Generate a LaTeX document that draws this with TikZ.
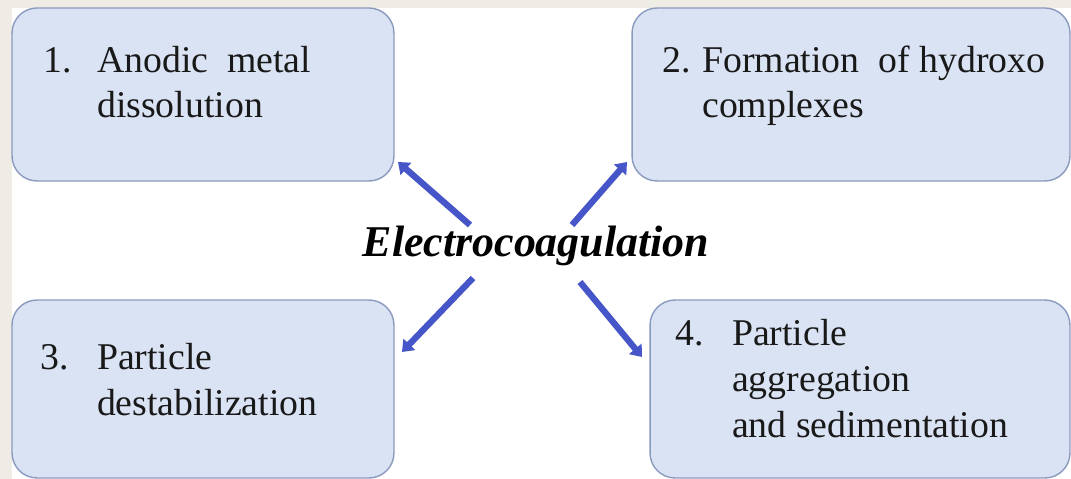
\documentclass[tikz,border=0pt]{standalone}
\usepackage{fontspec}
\setmainfont{Liberation Serif}
\usetikzlibrary{arrows.meta,positioning,calc}

\definecolor{pagebeige}{RGB}{239,236,229}
\definecolor{boxfill}{RGB}{218,227,243}
\definecolor{boxline}{RGB}{138,153,190}
\definecolor{arrowblue}{RGB}{70,86,200}

\begin{document}
\begin{tikzpicture}[
        x=0.02cm, y=-0.02cm,
        stage/.style={rectangle, rounded corners=0.5cm, draw=boxline, fill=boxfill, line width=0.8pt, inner sep=0pt},
        stagetext/.style={anchor=base west, inner sep=0pt, align=left, text=black!90, font=\fontsize{21.5}{26}\selectfont},
        link/.style={-{Triangle[length=6pt,width=9pt]}, line width=3.6pt, draw=arrowblue},
        >=latex
    ]
        % page
        \fill[pagebeige] (0,0) rectangle (1071,479);
        \fill[white] (12,8) rectangle (1071,479);
        \useasboundingbox (0,0) rectangle (1071,479);

        % the four stages
        \node[stage, minimum width=7.64cm, minimum height=3.46cm] (anodic) at (203,94.5) {};
        \node[stage, minimum width=8.76cm, minimum height=3.46cm] (hydroxo) at (851,94.5) {};
        \node[stage, minimum width=7.64cm, minimum height=3.56cm] (destab) at (203,389) {};
        \node[stage, minimum width=8.40cm, minimum height=3.56cm] (aggreg) at (860,389) {};

        % texts, placed by the baseline of their last line
        \node[stagetext] (anodictext) at (43,118) {\makebox[30.6pt][l]{1.}Anodic\ \ metal\\\hspace*{30.6pt}dissolution};
        \node[stagetext] (hydroxotext) at (662,118) {\makebox[22.7pt][l]{2.}Formation\ \ of hydroxo\\\hspace*{22.7pt}complexes};
        \node[stagetext] (destabtext) at (40,415) {\makebox[32.3pt][l]{3.}Particle\\\hspace*{32.3pt}destabilization};
        \node[stagetext] (aggregtext) at (675,437) {\makebox[32.3pt][l]{4.}Particle\\\hspace*{32.3pt}aggregation\\\hspace*{32.3pt}and sedimentation};

        % centre
        \node[anchor=base, inner sep=0pt, font=\fontsize{25}{30}\selectfont\bfseries\itshape] (ec) at (536,257) {Electrocoagulation};

        \coordinate (t1) at (470,225);
        \coordinate (h1) at (398,162);
        \coordinate (t2) at (572,225);
        \coordinate (h2) at (627,162);
        \coordinate (t3) at (473,278);
        \coordinate (h3) at (402,352);
        \coordinate (t4) at (580,282);
        \coordinate (h4) at (642,357);

        \draw[link] (t1) -- (h1);
        \draw[link] (t2) -- (h2);
        \draw[link] (t3) -- (h3);
        \draw[link] (t4) -- (h4);
    \end{tikzpicture}
\end{document}
